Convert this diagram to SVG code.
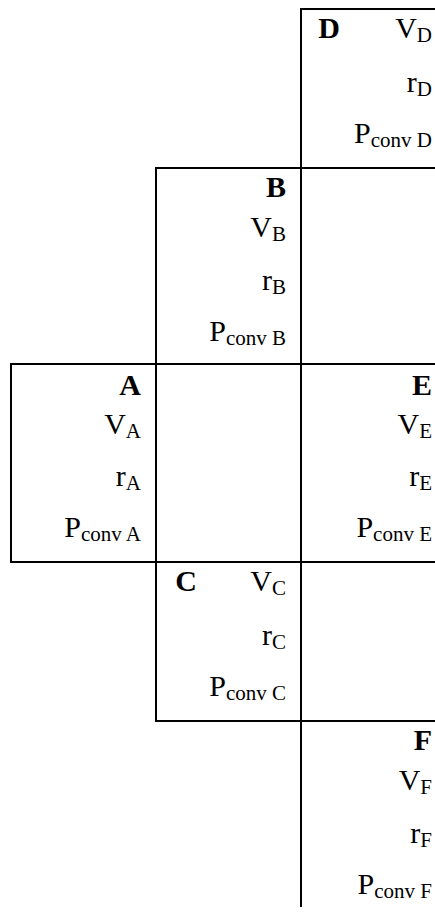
<svg xmlns="http://www.w3.org/2000/svg" width="435" height="912" viewBox="0 0 435 912">
<style>
.ln{stroke:#000;stroke-width:2;fill:none;stroke-linecap:square}
text{font-family:"Liberation Serif","Times New Roman",serif;font-size:30px;fill:#000;text-anchor:end}
.b{font-weight:bold}
.s{font-size:21px}
</style>
<rect width="435" height="912" fill="#fff"/>
<g id="connectors">
<path class="ln" d="M301,9 V906 M301,9 H436 M156,168 H436 M156,168 V721 M11,364 H436 M11,364 V562 H436 M156,721 H436"/>
</g>
<g id="D">
<text x="340" y="38" class="b">D</text>
<text x="432" y="38">V<tspan class="s" dy="4">D</tspan></text>
<text x="432" y="92">r<tspan class="s" dy="4">D</tspan></text>
<text x="432" y="143">P<tspan class="s" dy="4">conv D</tspan></text>
</g>
<g id="B">
<text x="286" y="197" class="b">B</text>
<text x="286" y="237">V<tspan class="s" dy="4">B</tspan></text>
<text x="286" y="290">r<tspan class="s" dy="4">B</tspan></text>
<text x="286" y="341">P<tspan class="s" dy="4">conv B</tspan></text>
</g>
<g id="A">
<text x="141" y="395" class="b">A</text>
<text x="141" y="434">V<tspan class="s" dy="4">A</tspan></text>
<text x="141" y="486">r<tspan class="s" dy="4">A</tspan></text>
<text x="141" y="537">P<tspan class="s" dy="4">conv A</tspan></text>
</g>
<g id="E">
<text x="432" y="395" class="b">E</text>
<text x="432" y="434">V<tspan class="s" dy="4">E</tspan></text>
<text x="432" y="486">r<tspan class="s" dy="4">E</tspan></text>
<text x="432" y="537">P<tspan class="s" dy="4">conv E</tspan></text>
</g>
<g id="C">
<text x="197" y="591" class="b">C</text>
<text x="286" y="591">V<tspan class="s" dy="4">C</tspan></text>
<text x="286" y="645">r<tspan class="s" dy="4">C</tspan></text>
<text x="286" y="696">P<tspan class="s" dy="4">conv C</tspan></text>
</g>
<g id="F">
<text x="432" y="750" class="b">F</text>
<text x="432" y="790">V<tspan class="s" dy="4">F</tspan></text>
<text x="432" y="843">r<tspan class="s" dy="4">F</tspan></text>
<text x="432" y="894">P<tspan class="s" dy="4">conv F</tspan></text>
</g>
</svg>
